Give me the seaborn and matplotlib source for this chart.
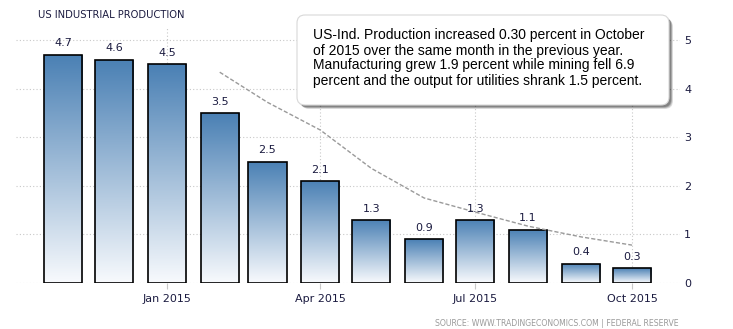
import numpy as np
import pandas as pd
import matplotlib
matplotlib.use("Agg")
import matplotlib.pyplot as plt
import seaborn as sns
from matplotlib.patches import FancyBboxPatch
from matplotlib.colors import LinearSegmentedColormap
from matplotlib.transforms import IdentityTransform

# Year-over-year growth of US industrial production (percent)
months = ["2014-11-01", "2014-12-01", "2015-01-01", "2015-02-01", "2015-03-01",
          "2015-04-01", "2015-05-01", "2015-06-01", "2015-07-01", "2015-08-01",
          "2015-09-01", "2015-10-01"]
growth = [4.7, 4.6, 4.5, 3.5, 2.5, 2.1, 1.3, 0.9, 1.3, 1.1, 0.4, 0.3]

# Smoothed trend line, Feb–Oct 2015
trend_months = months[3:]
trend = [4.34, 3.72, 3.15, 2.36, 1.75, 1.46, 1.17, 0.95, 0.78]

tick_months = ["2015-01-01", "2015-04-01", "2015-07-01", "2015-10-01"]
tick_labels = ["Jan 2015", "Apr 2015", "Jul 2015", "Oct 2015"]
y_ticks = [0, 1, 2, 3, 4, 5]

title = "US INDUSTRIAL PRODUCTION"
note_lines = [
    "US-Ind. Production increased 0.30 percent in October",
    "of 2015 over the same month in the previous year.",
    "Manufacturing grew 1.9 percent while mining fell 6.9",
    "percent and the output for utilities shrank 1.5 percent.",
]
source = "SOURCE: WWW.TRADINGECONOMICS.COM | FEDERAL RESERVE"

origin = pd.Timestamp(months[0])


def to_day(s):
    return (pd.Timestamp(s) - origin).days


df = pd.DataFrame({"day": [to_day(m) for m in months], "growth": growth})
df_trend = pd.DataFrame({"day": [to_day(m) for m in trend_months], "trend": trend})

sns.set_theme(style="white")
plt.rcParams["font.family"] = ["DejaVu Sans"]

W, H = 733, 329
fig = plt.figure(figsize=(W / 100, H / 100), dpi=100)
ax = fig.add_axes([16 / W, 1 - 283 / H, (680 - 16) / W, (283 - 28) / H])

text_col = "#1b1b40"
grid_col = "#c8c8c8"

sns.barplot(data=df, x="day", y="growth", native_scale=True, width=0.8,
            color="#4a80b4", edgecolor="black", linewidth=1.2,
            errorbar=None, ax=ax, zorder=2)

# vertical gradient inside each bar: white at the base, steel blue at the top
cmap = LinearSegmentedColormap.from_list("bar", ["#f8fafd", "#4a80b4"])
grad = np.linspace(0, 1, 256).reshape(-1, 1)
for p in list(ax.patches):
    x0, w, h = p.get_x(), p.get_width(), p.get_height()
    im = ax.imshow(grad, extent=[x0, x0 + w, 0, h], origin="lower",
                   aspect="auto", cmap=cmap, zorder=1.9, interpolation="bilinear")
    im.set_clip_path(p)
    p.set_facecolor("none")
    ax.annotate(f"{h:.1f}", (x0 + w / 2, h), xytext=(0, 6),
                textcoords="offset points", ha="center", va="baseline",
                fontsize=8, color=text_col, zorder=4)

sns.lineplot(data=df_trend, x="day", y="trend", color="#9a9a9a",
             linewidth=1.0, linestyle=(0, (3, 1.5)), ax=ax, zorder=3)

ax.set_xlim((16 - 63) / 1.7036, (680 - 63) / 1.7036)
ax.set_ylim(0, 5.25)
ax.set_xticks([to_day(m) for m in tick_months])
ax.set_xticklabels(tick_labels)
ax.set_yticks(y_ticks)
ax.yaxis.tick_right()
ax.set_xlabel("")
ax.set_ylabel("")
for s in ax.spines.values():
    s.set_visible(False)
ax.grid(True, color=grid_col, linestyle=(0, (1, 2)), linewidth=0.8)
ax.set_axisbelow(True)
ax.tick_params(axis="x", length=4, color=grid_col, width=0.8, pad=4,
               labelsize=8, labelcolor=text_col, bottom=True)
ax.tick_params(axis="y", length=0, pad=3, labelsize=8, labelcolor=text_col, right=True)

fig.text(38 / W, 1 - 15 / H, title, fontsize=7.2, color=text_col,
         ha="left", va="center")

# rounded note box with a soft drop shadow, drawn in pixel coordinates
bx, by, bw, bh = 297, H - 105, 372, 90
for i, a in enumerate([0.10, 0.12, 0.16, 0.22]):
    off = 4 - i * 0.6
    sh = FancyBboxPatch((bx + off, by - off), bw, bh,
                        boxstyle="round,pad=0,rounding_size=8",
                        transform=IdentityTransform(), facecolor="black",
                        edgecolor="none", alpha=a, zorder=5)
    fig.patches.append(sh)
box = FancyBboxPatch((bx, by), bw, bh, boxstyle="round,pad=0,rounding_size=8",
                     transform=IdentityTransform(), facecolor="white",
                     edgecolor="#d8d8d8", linewidth=0.8, zorder=6)
fig.patches.append(box)
for i, line in enumerate(note_lines):
    fig.text(313 / W, 1 - (39.5 + 15 * i) / H, line, fontsize=10,
             family=["Liberation Sans", "DejaVu Sans"], color="black",
             ha="left", va="baseline", zorder=7)

fig.text(679 / W, 1 - 323 / H, source, fontsize=5.6, color="#9a9a9a",
         ha="right", va="center")

fig.savefig("out.png", dpi=100)
